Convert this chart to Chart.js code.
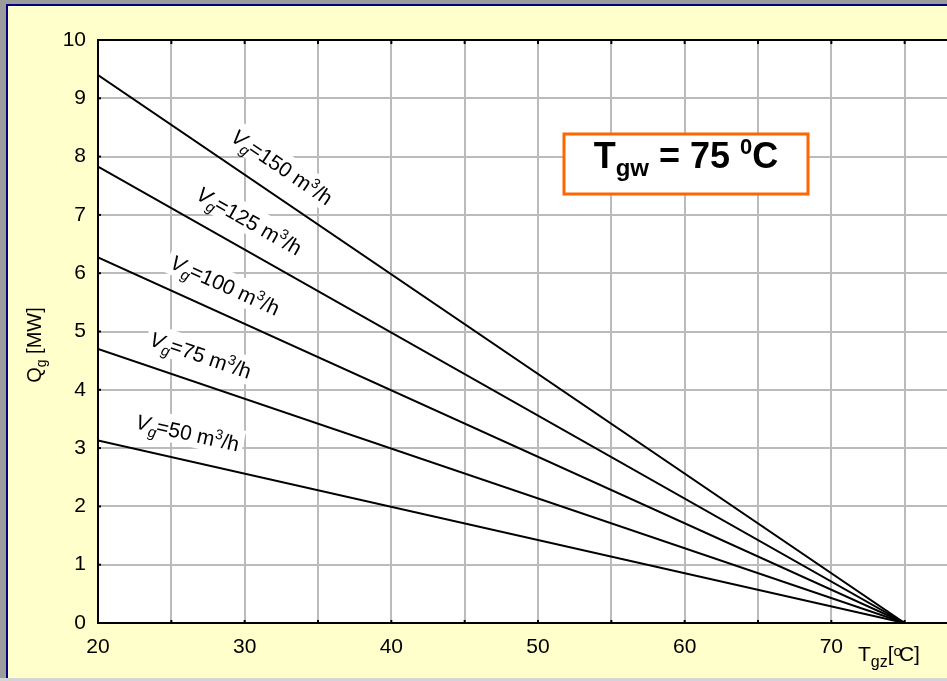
<!DOCTYPE html>
<html>
<head>
<meta charset="utf-8">
<script src="https://cdn.jsdelivr.net/npm/chart.js@4"></script>
<style>
  html, body { margin: 0; padding: 0; overflow: hidden; }
  body { width: 947px; height: 681px; background: #9c9c9c; position: relative; }
  #panel { position: absolute; left: 6px; top: 4px; width: 1000px; height: 672px; background: #ffffcc;
           border-left: 2px solid #000080; border-top: 2px solid #000080; }
  #foot { position: absolute; left: 0; top: 678px; width: 947px; height: 3px; background: #d4d4d4; }
  #wrap { position: absolute; left: 0; top: 0; width: 1000px; height: 681px; }
</style>
</head>
<body>
<div id="panel"></div>
<div id="foot"></div>
<div id="wrap"><canvas id="chart" width="1000" height="681"></canvas></div>
<script>
const FF = '"Liberation Sans", Arial, sans-serif';

// temperatures of the return water T_gz [C]
const temps = [20, 75];
// heat output Q_g [MW] for each flow
const q150 = [9.4, 0];
const q125 = [7.83, 0];
const q100 = [6.27, 0];
const q75 = [4.7, 0];
const q50 = [3.13, 0];
const flows = [150, 125, 100, 75, 50];
// where along the line each flow label sits (T_gz value)
const labelAt = [31.5, 29.4, 27.9, 26.4, 25.7];

const seriesList = [q150, q125, q100, q75, q50];

function toPoints(vals) {
    return temps.map((t, i) => ({x: t, y: vals[i]}));
}

function drawRich(ctx, parts, x, y) {
    parts.forEach(p => {
        ctx.font = p.font;
        ctx.fillText(p.t, x, y + (p.dy || 0));
        x += ctx.measureText(p.t).width + (p.kern || 0);
    });
    return x;
}

function richWidth(ctx, parts) {
    let w = 0;
    parts.forEach(p => {
        ctx.font = p.font;
        w += ctx.measureText(p.t).width + (p.kern || 0);
    });
    return w;
}

const decorations = {
    id: 'decorations',
    beforeDraw(chart) {
        const {ctx, chartArea: a} = chart;
        ctx.save();
        ctx.fillStyle = '#ffffff';
        ctx.fillRect(a.left, a.top, a.right - a.left, a.bottom - a.top);
        ctx.restore();
    },
    afterDatasetsDraw(chart) {
        const {ctx, chartArea: a} = chart;
        const xs = chart.scales.x, ys = chart.scales.y;
        ctx.save();

        // frame top line
        ctx.strokeStyle = '#000';
        ctx.lineWidth = 2;
        ctx.beginPath();
        ctx.moveTo(a.left, a.top);
        ctx.lineTo(a.right, a.top);
        ctx.stroke();

        // small inner ticks
        xs.ticks.forEach(t => {
            const px = xs.getPixelForValue(t.value);
            ctx.beginPath();
            ctx.moveTo(px, a.top); ctx.lineTo(px, a.top + 4);
            ctx.moveTo(px, a.bottom); ctx.lineTo(px, a.bottom - 3);
            ctx.stroke();
        });
        ys.ticks.forEach(t => {
            const py = ys.getPixelForValue(t.value);
            ctx.beginPath();
            ctx.moveTo(a.left, py); ctx.lineTo(a.left + 3, py);
            ctx.stroke();
        });

        // flow labels along the lines
        seriesList.forEach((s, i) => {
            const x0 = xs.getPixelForValue(temps[0]), y0 = ys.getPixelForValue(s[0]);
            const x1 = xs.getPixelForValue(temps[1]), y1 = ys.getPixelForValue(s[1]);
            const ang = Math.atan2(y1 - y0, x1 - x0);
            const f = (labelAt[i] - temps[0]) / (temps[1] - temps[0]);
            const ax = xs.getPixelForValue(labelAt[i]);
            const ay = ys.getPixelForValue(s[0] + (s[1] - s[0]) * f);
            const off = 27;
            const cx = ax + off * Math.sin(ang), cy = ay - off * Math.cos(ang);
            const parts = [
                {t: 'V', font: 'italic 21px ' + FF},
                {t: 'g', font: 'italic 15px ' + FF, dy: 5, kern: -1},
                {t: '=' + flows[i] + ' m', font: '21px ' + FF},
                {t: '3', font: '14px ' + FF, dy: -8},
                {t: '/h', font: '21px ' + FF}
            ];
            ctx.save();
            ctx.translate(cx, cy);
            ctx.rotate(ang);
            const w = richWidth(ctx, parts);
            ctx.fillStyle = '#ffffff';
            ctx.fillRect(-w / 2 - 4, -15, w + 8, 28);
            ctx.fillStyle = '#000';
            ctx.textBaseline = 'alphabetic';
            drawRich(ctx, parts, -w / 2, 7);
            ctx.restore();
        });

        // T_gw box
        const bx = 564, by = 134, bw = 244, bh = 60;
        ctx.fillStyle = '#ffffff';
        ctx.fillRect(bx, by, bw, bh);
        ctx.strokeStyle = '#ff6600';
        ctx.lineWidth = 3;
        ctx.strokeRect(bx, by, bw, bh);
        const boxParts = [
            {t: 'T', font: 'bold 36px ' + FF},
            {t: 'gw', font: 'bold 24px ' + FF, dy: 8},
            {t: ' = 75 ', font: 'bold 36px ' + FF},
            {t: '0', font: 'bold 22px ' + FF, dy: -14},
            {t: 'C', font: 'bold 36px ' + FF}
        ];
        const bw2 = richWidth(ctx, boxParts);
        ctx.fillStyle = '#000';
        ctx.textBaseline = 'alphabetic';
        drawRich(ctx, boxParts, bx + bw / 2 - bw2 / 2, 168);

        // axis titles
        drawRich(ctx, [
            {t: 'T', font: '21px ' + FF},
            {t: 'gz', font: '16px ' + FF, dy: 6},
            {t: '[', font: '21px ' + FF},
            {t: 'o', font: '15px ' + FF, dy: -5, kern: -3},
            {t: 'C]', font: '21px ' + FF}
        ], 858, 661);

        const yParts = [
            {t: 'Q', font: '20px ' + FF},
            {t: 'g', font: '14px ' + FF, dy: 5},
            {t: ' [MW]', font: '20px ' + FF}
        ];
        ctx.translate(41, 345);
        ctx.rotate(-Math.PI / 2);
        const yw = richWidth(ctx, yParts);
        drawRich(ctx, yParts, -yw / 2, 0);
        ctx.restore();
    }
};

new Chart(document.getElementById('chart'), {
    type: 'line',
    data: {
        datasets: seriesList.map((s, i) => ({
            label: 'Vg=' + flows[i],
            data: toPoints(s),
            borderColor: '#000',
            borderWidth: 2,
            pointRadius: 0,
            tension: 0
        }))
    },
    options: {
        responsive: false,
        animation: false,
        layout: {padding: {top: 40, left: 0, right: 22, bottom: 0}},
        plugins: {legend: {display: false}, tooltip: {enabled: false}},
        scales: {
            x: {
                type: 'linear',
                min: 20,
                max: 80,
                afterFit: s => { s.height = 58; },
                ticks: {
                    stepSize: 5,
                    autoSkip: false,
                    maxRotation: 0,
                    padding: 12,
                    color: '#000',
                    font: {family: FF, size: 21},
                    callback: v => (v % 10 === 0 && v < 80) ? String(v) : ''
                },
                grid: {color: '#bbbbbb', lineWidth: 2, drawTicks: false},
                border: {color: '#000', width: 2}
            },
            y: {
                min: 0,
                max: 10,
                afterFit: s => { s.width = 98; },
                ticks: {
                    stepSize: 1,
                    padding: 12,
                    color: '#000',
                    font: {family: FF, size: 21}
                },
                grid: {color: '#bbbbbb', lineWidth: 2, drawTicks: false},
                border: {color: '#000', width: 2}
            }
        }
    },
    plugins: [decorations]
});
</script>
</body>
</html>
